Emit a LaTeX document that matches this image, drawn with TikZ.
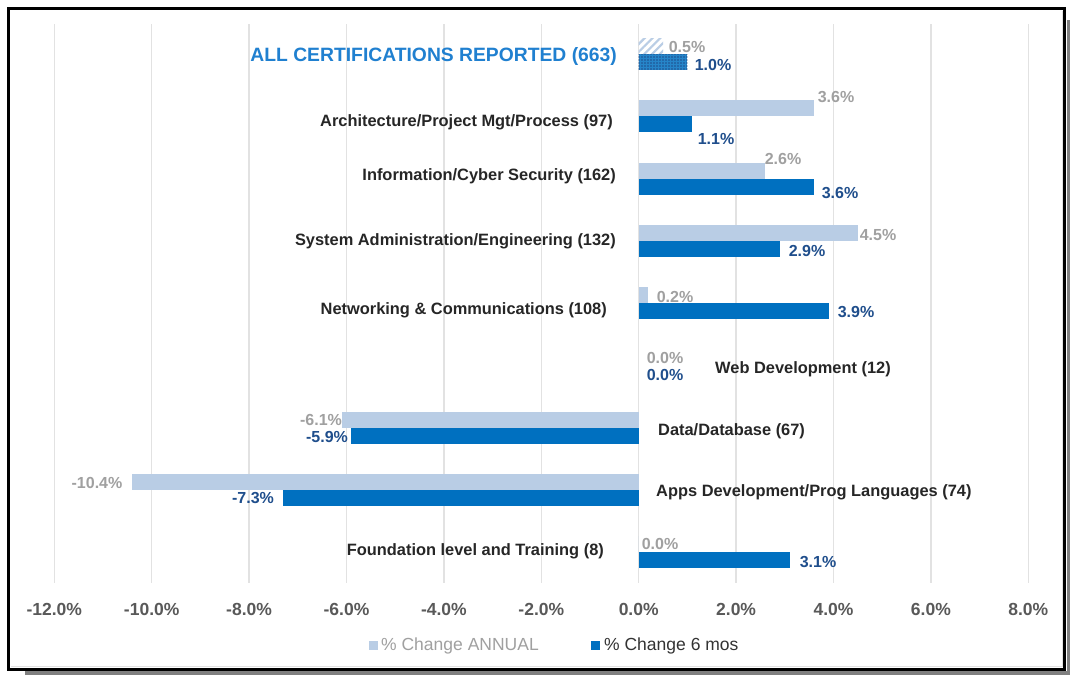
\documentclass[tikz,border=0pt]{standalone}
\usepackage{fontspec}
\setmainfont{Liberation Sans}
\usetikzlibrary{patterns.meta}
\definecolor{annual}{HTML}{B9CDE5}
\definecolor{sixmo}{HTML}{0070C0}
\definecolor{annualtxt}{HTML}{A0A0A0}
\definecolor{sixtxt}{HTML}{1F4E8C}
\definecolor{titleblue}{HTML}{2080D0}
\definecolor{gridc}{HTML}{E2E2E2}
\definecolor{axistxt}{HTML}{595959}
\definecolor{shadowc}{HTML}{808080}
\tikzset{
  cat/.style={inner sep=0pt, font=\fontsize{16.4}{18}\selectfont\bfseries, text=black!85},
  vala/.style={inner sep=0pt, font=\fontsize{16}{18}\selectfont\bfseries, text=annualtxt},
  vals/.style={inner sep=0pt, font=\fontsize{16}{18}\selectfont\bfseries, text=sixtxt},
  tick/.style={inner sep=0pt, font=\fontsize{17.5}{20}\selectfont\bfseries, text=axistxt},
  leg/.style={inner sep=0pt, font=\fontsize{17.5}{20}\selectfont, anchor=west},
  gridl/.style={draw=gridc, line width=1.3pt},
  bara/.style={fill=annual},
  bars/.style={fill=sixmo}
}
\begin{document}
\begin{tikzpicture}[x=1pt,y=-1pt]
\useasboundingbox (0,0) rectangle (1070,675);
\fill[white] (0,0) rectangle (1070,675);
% shadow
\fill[shadowc] (1066.5,20) rectangle (1070,675);
\fill[shadowc] (25,670.5) rectangle (1070,675);
% inner light border
\draw[gridc, line width=1pt] (1062,11) -- (1062,666) -- (11,666);
% frame
\draw[black, line width=3pt] (8.5,8.5) rectangle (1064.5,669);
% gridlines
\foreach \v in {-12,-10,...,8} {
  \draw[gridl] ({638.7+48.7*\v},24) -- ({638.7+48.7*\v},583);
}
% tick labels
\foreach \v/\n/\t in {-12/m12/-12.0,-10/m10/-10.0,-8/m8/-8.0,-6/m6/-6.0,-4/m4/-4.0,-2/m2/-2.0,0/z0/0.0,2/p2/2.0,4/p4/4.0,6/p6/6.0,8/p8/8.0} {
  \node[tick] (t\n) at ({638.7+48.7*\v},609) {\t\%};
}
% bars
\foreach \i/\a/\s in {1/3.6/1.1, 2/2.6/3.6, 3/4.5/2.9, 4/0.2/3.9, 6/-6.1/-5.9, 7/-10.4/-7.3, 8/0/3.1} {
  \fill[bara] (638.7,{54+62.25*\i-16}) rectangle ({638.7+48.7*\a},{54+62.25*\i});
  \fill[bars] (638.7,{54+62.25*\i}) rectangle ({638.7+48.7*\s},{54+62.25*\i+16});
}
% ALL bars with patterns
\fill[pattern={Lines[angle=45,distance=5.5pt,line width=2.2pt]}, pattern color=annual] (638.7,38) rectangle ({638.7+48.7*0.5},54);
\fill[sixmo!85!white] (638.7,54) rectangle ({638.7+48.7*1.0},70);
\fill[pattern={Dots[radius=0.9pt,distance=3pt]}, pattern color=sixtxt] (638.7,54) rectangle ({638.7+48.7*1.0},70);
% title
\node[inner sep=0pt, anchor=east, font=\fontsize{19.3}{22}\selectfont\bfseries, text=titleblue] (title) at (617,57) {ALL CERTIFICATIONS REPORTED (663)};
% category labels
\node[cat, anchor=east] (c1) at (613,122) {Architecture/Project Mgt/Process (97)};
\node[cat, anchor=east] (c2) at (616,176) {Information/Cyber Security (162)};
\node[cat, anchor=east] (c3) at (616,241) {System Administration/Engineering (132)};
\node[cat, anchor=east] (c4) at (607,310) {Networking \& Communications (108)};
\node[cat, anchor=west] (c5) at (715,369) {Web Development (12)};
\node[cat, anchor=west] (c6) at (658,431) {Data/Database (67)};
\node[cat, anchor=west] (c7) at (656,492) {Apps Development/Prog Languages (74)};
\node[cat, anchor=east] (c8) at (604,551) {Foundation level and Training (8)};
% value labels
\node[vala] (a0) at (687,47) {0.5\%};
\node[vals] (s0) at (713,65) {1.0\%};
\node[vala] (a1) at (836,97) {3.6\%};
\node[vals] (s1) at (716,139) {1.1\%};
\node[vala] (a2) at (783,159) {2.6\%};
\node[vals] (s2) at (840,193) {3.6\%};
\node[vala] (a3) at (878,235) {4.5\%};
\node[vals] (s3) at (807,251) {2.9\%};
\node[vala] (a4) at (675,297) {0.2\%};
\node[vals] (s4) at (856,312) {3.9\%};
\node[vala] (a5) at (665,358) {0.0\%};
\node[vals] (s5) at (665,375) {0.0\%};
\node[vala] (a6) at (321,420) {-6.1\%};
\node[vals] (s6) at (327,437) {-5.9\%};
\node[vala] (a7) at (97,483) {-10.4\%};
\node[vals] (s7) at (253,498) {-7.3\%};
\node[vala] (a8) at (660,544) {0.0\%};
\node[vals] (s8) at (818,562) {3.1\%};
% legend
\fill[annual] (369,641) rectangle (378,650);
\node[leg, text=annualtxt] (la) at (381,646) {\% Change ANNUAL};
\fill[sixmo] (591,641) rectangle (600,650);
\node[leg, text=black!80] (ls) at (604,646) {\% Change 6 mos};
\end{tikzpicture}
\end{document}
